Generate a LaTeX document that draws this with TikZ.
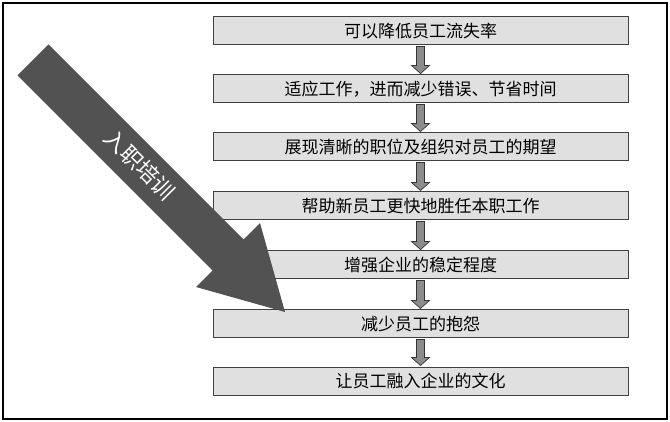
\documentclass[tikz,border=0pt]{standalone}
\usepackage{fontspec}
\setmainfont{Noto Sans CJK SC}
\usetikzlibrary{calc}
\begin{document}
\begin{tikzpicture}[x=1pt,y=-1pt,
  stepbox/.style={draw=black!75,fill=black!12,line width=1pt,minimum width=415pt,minimum height=28pt,inner sep=0pt,font=\fontsize{17pt}{19pt}\selectfont},
  link/.style={draw=black!80,fill=black!45,line width=0.7pt}]
\useasboundingbox (0,0) rectangle (670,422);
\draw[line width=1.2pt] (3,3) rectangle (667,419);
\foreach \i/\y/\t in {1/31/可以降低员工流失率,2/89/适应工作，进而减少错误、节省时间,3/147/展现清晰的职位及组织对员工的期望,4/206/帮助新员工更快地胜任本职工作,5/265/增强企业的稳定程度,6/324/减少员工的抱怨,7/381/让员工融入企业的文化}
  \node[stepbox] (b\i) at (420.5,\y) {\t};
\foreach \a/\b in {1/2,2/3,3/4,4/5,5/6,6/7}{
  \path (b\a.south) coordinate (s) (b\b.north) coordinate (e);
  \draw[link] ($(s)+(-4,1)$) -- ($(s)+(4,1)$) -- ($(e)+(4,-9)$) -- ($(e)+(9,-9)$) -- ($(e)+(0,-1)$) -- ($(e)+(-9,-9)$) -- ($(e)+(-4,-9)$) -- cycle;
}
\fill[black!68] (48.5,44.5) -- (243.5,239.5) -- (260,223) -- (285,312) -- (196,287) -- (212.5,270.5) -- (17.5,75.5) -- cycle;
\node[rotate=-45,text=white,font=\fontsize{22pt}{24pt}\selectfont] (lbl) at (140,165) {入职培训};
\end{tikzpicture}
\end{document}
